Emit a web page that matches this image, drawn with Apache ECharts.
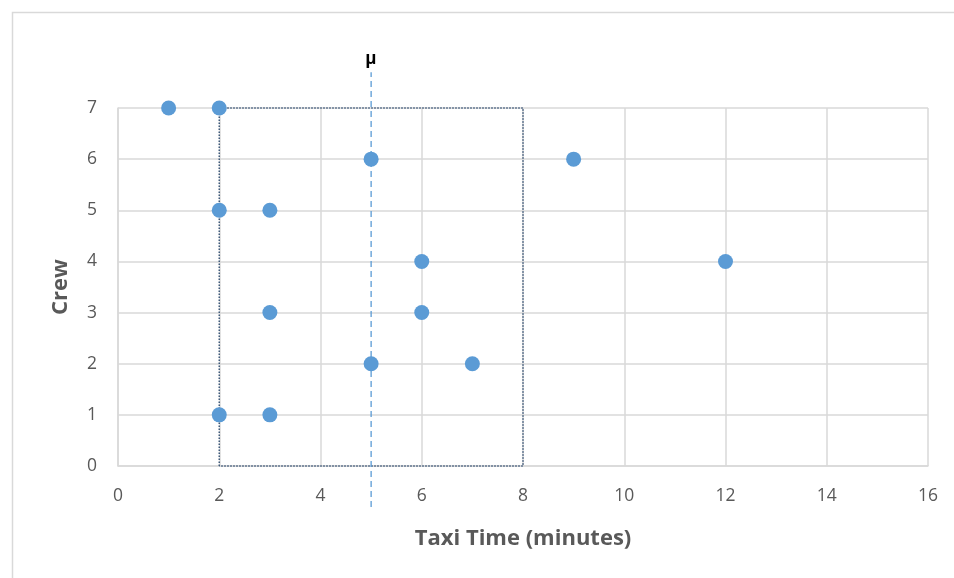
<!DOCTYPE html>
<html>
<head>
<meta charset="utf-8">
<script src="https://cdn.jsdelivr.net/npm/echarts@6/dist/echarts.min.js"></script>
<style>html,body{margin:0;padding:0;background:#fff}#c{width:954px;height:578px}</style>
</head>
<body>
<div id="c"></div>
<script>
var taxiTime = [1, 2, 5, 9, 2, 3, 6, 12, 3, 6, 5, 7, 2, 3];
var crew     = [7, 7, 6, 6, 5, 5, 4, 4, 3, 3, 2, 2, 1, 1];
var meanTime = 5;
var meanLineY = [-0.8, 7.7];
var boxX = [2, 2, 8, 8, 2];
var boxY = [0, 7, 7, 0, 0];
var xTicks = [0, 2, 4, 6, 8, 10, 12, 14, 16];
var yTicks = [0, 1, 2, 3, 4, 5, 6, 7];

var points = taxiTime.map(function (t, i) { return [t, crew[i]]; });
var boxData = boxX.map(function (x, i) { return [x, boxY[i]]; });
var meanData = meanLineY.map(function (y) { return [meanTime, y]; });

var font = "'Open Sans', sans-serif";
var chart = echarts.init(document.getElementById('c'), null, { renderer: 'canvas' });
chart.setOption({
  animation: false,
  backgroundColor: '#fff',
  graphic: [{
    type: 'rect', left: 10, top: 10, z: -1,
    shape: { width: 960, height: 600 },
    style: { fill: 'none', stroke: '#d9d9d9', lineWidth: 1.5 }
  }],
  grid: { left: 118, right: 26, top: 108, bottom: 112 },
  xAxis: {
    type: 'value', min: xTicks[0], max: xTicks[xTicks.length - 1], interval: 2,
    name: 'Taxi Time (minutes)', nameLocation: 'middle', nameGap: 62,
    nameTextStyle: { fontFamily: font, fontSize: 22, fontWeight: 'bold', color: '#595959' },
    axisLine: { show: true, lineStyle: { color: '#d9d9d9', width: 1.5 } },
    axisTick: { show: false },
    axisLabel: { fontFamily: font, fontSize: 17.5, color: '#595959', margin: 21 },
    splitLine: { show: true, lineStyle: { color: '#d9d9d9', width: 1.5 } }
  },
  yAxis: {
    type: 'value', min: yTicks[0], max: yTicks[yTicks.length - 1], interval: 1,
    name: 'Crew', nameLocation: 'middle', nameGap: 46,
    nameTextStyle: { fontFamily: font, fontSize: 22, fontWeight: 'bold', color: '#595959' },
    axisLine: { show: true, lineStyle: { color: '#d9d9d9', width: 1.5 } },
    axisTick: { show: false },
    axisLabel: { fontFamily: font, fontSize: 17.5, color: '#595959', margin: 21 },
    splitLine: { show: true, lineStyle: { color: '#d9d9d9', width: 1.5 } }
  },
  series: [
    {
      type: 'line', data: boxData, symbol: 'none', clip: false, z: 3,
      lineStyle: { color: '#3f5a7a', width: 1.5, type: [1.5, 1.5] }
    },
    {
      type: 'line', data: meanData, symbol: 'none', clip: false, z: 4,
      lineStyle: { color: '#5b9bd5', width: 1.3, type: [6, 4] },
      endLabel: {
        show: true, formatter: 'μ', fontFamily: font, fontSize: 17, fontWeight: 'bold',
        color: '#000', distance: 0, offset: [-6, -13]
      }
    },
    {
      type: 'scatter', data: points, symbol: 'circle', symbolSize: 15, z: 5,
      itemStyle: { color: '#5b9bd5', opacity: 1 }
    }
  ]
});
</script>
</body>
</html>
